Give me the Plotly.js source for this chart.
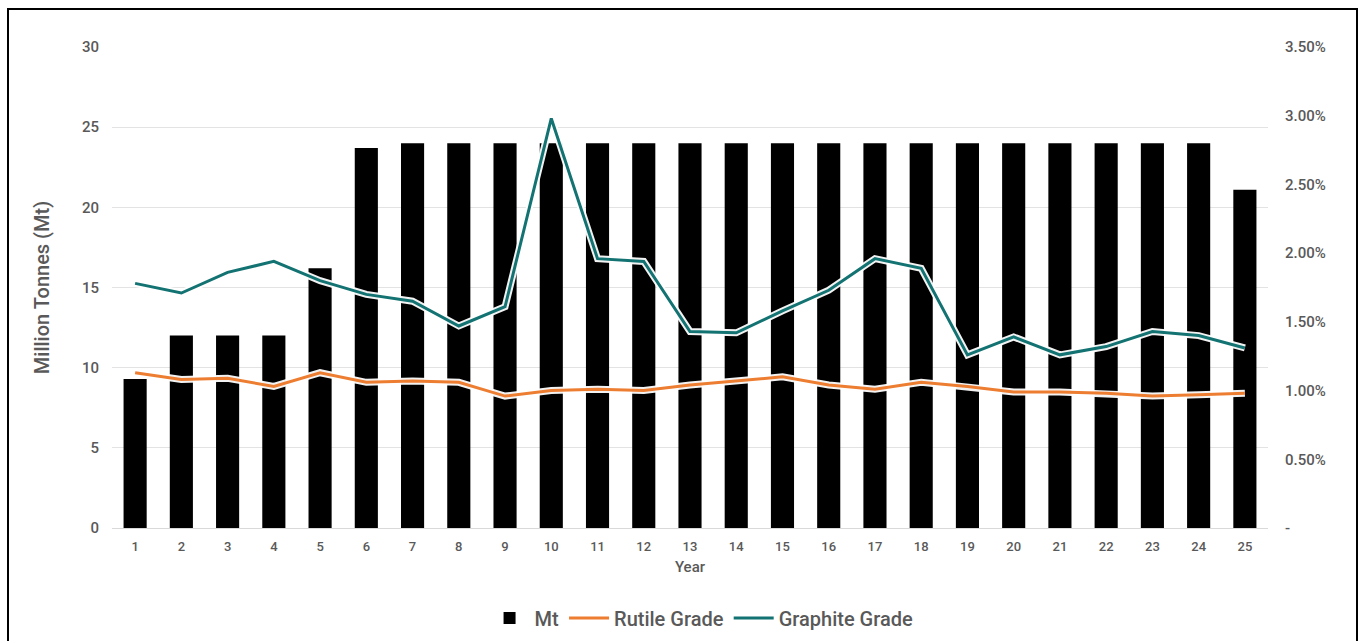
<!DOCTYPE html>
<html>
<head>
<meta charset="utf-8">
<script src="https://cdn.plot.ly/plotly-3.0.1.min.js"></script>
<style>
  html, body { margin: 0; padding: 0; background: #fff; }
  #wrap { position: relative; width: 1361px; height: 641px; overflow: hidden; }
  #chart { position: absolute; left: 0; top: 0; width: 1361px; height: 641px; }
  #frame { position: absolute; left: 7px; top: 8px; width: 1347px; height: 660px;
           border: 2px solid #000; pointer-events: none; }
</style>
</head>
<body>
<div id="wrap">
  <div id="chart"></div>
  <div id="frame"></div>
</div>
<script>
const years = ['1','2','3','4','5','6','7','8','9','10','11','12','13','14','15','16','17','18','19','20','21','22','23','24','25'];
const mt = [9.3, 12, 12, 12, 16.2, 23.7, 24, 24, 24, 24, 24, 24, 24, 24, 24, 24, 24, 24, 24, 24, 24, 24, 24, 24, 21.1];
const rutileGrade = [0.0113, 0.0108, 0.0109, 0.0103, 0.0113, 0.0106, 0.0107, 0.0106, 0.0096, 0.0100, 0.0101, 0.0100, 0.0104, 0.0107, 0.0110, 0.0104, 0.0101, 0.0106, 0.0103, 0.0099, 0.0099, 0.0098, 0.0096, 0.0097, 0.0098];
const graphiteGrade = [0.0178, 0.0171, 0.0186, 0.0194, 0.0180, 0.0170, 0.0165, 0.0147, 0.0161, 0.0298, 0.0196, 0.0194, 0.0143, 0.0142, 0.0158, 0.0173, 0.0196, 0.0189, 0.0126, 0.0139, 0.0126, 0.0132, 0.0143, 0.0140, 0.0131];
const leftTicks = [0, 5, 10, 15, 20, 25, 30];
const rightTickVals = [0, 0.005, 0.01, 0.015, 0.02, 0.025, 0.03, 0.035];
const rightTickText = ['-', '0.50%', '1.00%', '1.50%', '2.00%', '2.50%', '3.00%', '3.50%'];

const FONT = 'Roboto, "DejaVu Sans Condensed", sans-serif';
const GREY = '#595959';

const traces = [
  { type: 'bar', name: 'Mt', x: years, y: mt, marker: { color: '#000000' }, yaxis: 'y' },
  { type: 'scatter', mode: 'lines', x: years, y: rutileGrade, yaxis: 'y2', showlegend: false, hoverinfo: 'skip',
    line: { color: 'rgba(255,255,255,0.95)', width: 7 } },
  { type: 'scatter', mode: 'lines', name: 'Rutile Grade', x: years, y: rutileGrade, yaxis: 'y2',
    line: { color: '#ED7D31', width: 3 } },
  { type: 'scatter', mode: 'lines', x: years, y: graphiteGrade, yaxis: 'y2', showlegend: false, hoverinfo: 'skip',
    line: { color: 'rgba(255,255,255,0.95)', width: 7 } },
  { type: 'scatter', mode: 'lines', name: 'Graphite Grade', x: years, y: graphiteGrade, yaxis: 'y2',
    line: { color: '#137272', width: 3 } }
];

const layout = {
  width: 1361, height: 641,
  margin: { l: 112, r: 93, t: 47, b: 113, autoexpand: false },
  paper_bgcolor: '#ffffff', plot_bgcolor: '#ffffff',
  font: { family: FONT, color: GREY, size: 13 },
  bargap: 0.5,
  showlegend: true,
  legend: { orientation: 'h', x: 0.51, xanchor: 'center', y: -0.187, yanchor: 'middle',
            font: { size: 20, color: GREY, family: FONT, weight: 500 }, traceorder: 'normal', itemwidth: 40 },
  xaxis: {
    type: 'category', tickfont: { size: 13, color: GREY, weight: 500 }, showgrid: false,
    showline: true, linecolor: '#d9d9d9', linewidth: 1, ticks: '', ticklabelstandoff: 6,
    title: { text: 'Year', font: { size: 15, color: GREY, weight: 500 }, standoff: 8 }
  },
  yaxis: {
    range: [0, 30], tickvals: leftTicks, gridcolor: '#e3e3e3', gridwidth: 1, zeroline: false,
    showline: false, ticks: '', tickfont: { size: 15, color: GREY, weight: 500 }, ticklabelstandoff: 12,
    title: { text: 'Million Tonnes (Mt)', font: { size: 20, color: GREY, weight: 500 }, standoff: 26 }
  },
  yaxis2: {
    overlaying: 'y', side: 'right', range: [0, 0.035], tickvals: rightTickVals, ticktext: rightTickText,
    showgrid: false, zeroline: false, showline: false, ticks: '', tickfont: { size: 15, color: GREY, weight: 500 },
    ticklabelstandoff: 16
  }
};

Plotly.newPlot('chart', traces, layout, { displayModeBar: false, staticPlot: true });
</script>
</body>
</html>
